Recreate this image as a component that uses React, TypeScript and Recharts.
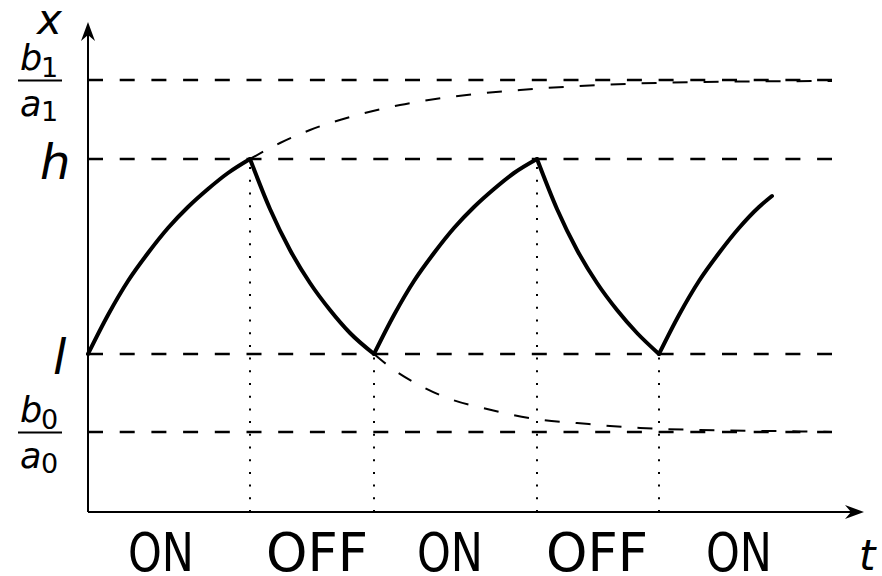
import React from 'react';
import { LineChart, Line, XAxis, YAxis, ReferenceLine } from 'recharts';

// switching trajectory x(t): rises toward b1/a1 while ON, decays toward b0/a0 while OFF
const solidT = [
  0, 2, 4, 6, 8, 10, 12, 14, 16.2,
  18.2, 20.2, 22.2, 24.2, 26.2, 28.6,
  30.6, 32.6, 34.6, 36.6, 38.6, 40.6, 42.6, 44.9,
  46.9, 48.9, 50.9, 52.9, 54.9, 57.1,
  59.1, 61.1, 63.1, 65.1, 67.1, 68.4,
];
const solidX = [
  1.58, 1.97, 2.31, 2.59, 2.84, 3.05, 3.23, 3.39, 3.53,
  3.03, 2.62, 2.29, 2.02, 1.79, 1.58,
  1.97, 2.31, 2.59, 2.84, 3.05, 3.23, 3.39, 3.53,
  3.03, 2.62, 2.29, 2.02, 1.79, 1.58,
  1.97, 2.31, 2.59, 2.84, 3.05, 3.16,
];

// where x would go if the switch never happened
const upperT = [16.2, 19.2, 22.2, 26.2, 31.2, 36.2, 43.2, 51.2, 61.2, 74.4];
const upperX = [3.53, 3.69, 3.82, 3.95, 4.07, 4.15, 4.22, 4.27, 4.3, 4.31];
const lowerT = [28.6, 30.2, 33.5, 36.5, 39.5, 42.5, 45.5, 48.9, 52.2, 55.2, 61.2, 68.2, 74.4];
const lowerX = [1.58, 1.45, 1.25, 1.12, 1.04, 0.97, 0.92, 0.89, 0.86, 0.84, 0.82, 0.81, 0.8];

const levelValues = [0.8, 1.58, 3.53, 4.32];
const levelLabels = ['b0/a0', 'l', 'h', 'b1/a1'];

const switchT = [16.2, 28.6, 44.9, 57.1];
const switchX = [3.53, 1.58, 3.53, 1.58];

const phaseT = [7.3, 22.9, 36.2, 50.9, 65.1];
const phaseLabels = ['ON', 'OFF', 'ON', 'OFF', 'ON'];

const T_MAX = 77.6;
const X_MAX = 4.9;
const LEVEL_END = 74.4;
const FONT = '"DejaVu Sans", sans-serif';

const toPoints = (ts: number[], xs: number[]) => ts.map((t, i) => ({ t, x: xs[i] }));

const solidData = toPoints(solidT, solidX);
const upperData = toPoints(upperT, upperX);
const lowerData = toPoints(lowerT, lowerX);

// one smooth piece per ON/OFF phase, split at the switching instants
const cuts = [0, ...switchT.map((t) => solidT.indexOf(t)), solidT.length - 1];
const solidPieces = cuts.slice(0, -1).map((c, i) => solidData.slice(c, cuts[i + 1] + 1));

const PhaseTick = (props: any) => {
  const { x, payload } = props;
  const label = phaseLabels[phaseT.indexOf(payload.value)];
  return (
    <text
      x={x}
      y={571}
      textAnchor="middle"
      fontFamily={FONT}
      fontSize={54}
      textLength={label === 'ON' ? 66 : 102}
      lengthAdjust="spacingAndGlyphs"
      fill="#000"
    >
      {label}
    </text>
  );
};

const LevelTick = (props: any) => {
  const { y, payload } = props;
  const label = levelLabels[levelValues.indexOf(payload.value)];
  if (!label) return null;
  if (label.includes('/')) {
    const [num, den] = label.split('/');
    return (
      <g fill="#000" fontFamily={FONT}>
        <text x={20} y={y - 10} fontSize={35} fontStyle="italic">{num[0]}</text>
        <text x={41} y={y - 3} fontSize={27}>{num[1]}</text>
        <line x1={18} x2={62} y1={y + 0.5} y2={y + 0.5} stroke="#000" strokeWidth={2} />
        <text x={20} y={y + 36} fontSize={35} fontStyle="italic">{den[0]}</text>
        <text x={41} y={y + 41} fontSize={27}>{den[1]}</text>
      </g>
    );
  }
  return (
    <text
      x={label === 'h' ? 40 : 53}
      y={y + 20}
      fontFamily={FONT}
      fontStyle="italic"
      fontSize={48}
      fill="#000"
    >
      {label}
    </text>
  );
};

// axis line with a stealth-style arrow head and the variable name next to the tip
const AxisArrow = (props: any) => {
  const { x1, y1, x2, y2, name, nameDx, nameDy } = props;
  const dx = x2 - x1;
  const dy = y2 - y1;
  const len = Math.hypot(dx, dy) || 1;
  const ux = dx / len;
  const uy = dy / len;
  const nx = -uy;
  const ny = ux;
  const L = 19;
  const W = 7;
  const notch = 13;
  const bx = x2 - ux * L;
  const by = y2 - uy * L;
  const head = `M${x2},${y2} L${bx + nx * W},${by + ny * W} L${x2 - ux * notch},${y2 - uy * notch} L${bx - nx * W},${by - ny * W} Z`;
  return (
    <g>
      <line x1={x1} y1={y1} x2={x2 - ux * notch} y2={y2 - uy * notch} stroke="#000" strokeWidth={2} />
      <path d={head} fill="#000" />
      <text
        x={x2 + nameDx}
        y={y2 + nameDy}
        fontFamily={FONT}
        fontStyle="italic"
        fontSize={42}
        fill="#000"
      >
        {name}
      </text>
    </g>
  );
};

export default function App() {
  return (
    <div style={{ position: 'absolute', left: 0, top: 0, background: '#fff' }}>
      <LineChart width={882} height={576} margin={{ top: 22, right: 18, bottom: 0, left: 0 }}>
        <XAxis
          type="number"
          dataKey="t"
          domain={[0, T_MAX]}
          ticks={phaseT}
          interval={0}
          height={64}
          axisLine={false}
          tickLine={false}
          tick={(p: any) => <PhaseTick {...p} />}
        />
        <YAxis
          type="number"
          dataKey="x"
          domain={[0, X_MAX]}
          ticks={levelValues}
          interval={0}
          width={88}
          axisLine={false}
          tickLine={false}
          tick={(p: any) => <LevelTick {...p} />}
        />

        {levelValues.map((v) => (
          <ReferenceLine
            key={`lvl-${v}`}
            segment={[{ x: 0, y: v }, { x: LEVEL_END, y: v }]}
            stroke="#000"
            strokeWidth={2.5}
            strokeDasharray="15 16.7"
          />
        ))}

        {switchT.map((t, i) => (
          <ReferenceLine
            key={`sw-${t}`}
            segment={[{ x: t, y: 0 }, { x: t, y: switchX[i] }]}
            stroke="#000"
            strokeWidth={2}
            strokeDasharray="2 10.7"
          />
        ))}

        <Line
          data={upperData}
          dataKey="x"
          type="monotone"
          stroke="#000"
          strokeWidth={2}
          strokeDasharray="15 16"
          dot={false}
          activeDot={false}
          isAnimationActive={false}
        />
        <Line
          data={lowerData}
          dataKey="x"
          type="monotone"
          stroke="#000"
          strokeWidth={2}
          strokeDasharray="15 16"
          dot={false}
          activeDot={false}
          isAnimationActive={false}
        />
        {solidPieces.map((piece, i) => (
          <Line
            key={`phase-${i}`}
            data={piece}
            dataKey="x"
            type="monotone"
            stroke="#000"
            strokeWidth={4}
            strokeLinecap="round"
            dot={false}
            activeDot={false}
            isAnimationActive={false}
          />
        ))}

        <ReferenceLine
          segment={[{ x: 0, y: 0 }, { x: 0, y: X_MAX }]}
          shape={(p: any) => <AxisArrow {...p} name="x" nameDx={-51} nameDy={12} />}
        />
        <ReferenceLine
          segment={[{ x: 0, y: 0 }, { x: T_MAX, y: 0 }]}
          shape={(p: any) => <AxisArrow {...p} name="t" nameDx={-5} nameDy={58} />}
        />
      </LineChart>
    </div>
  );
}
